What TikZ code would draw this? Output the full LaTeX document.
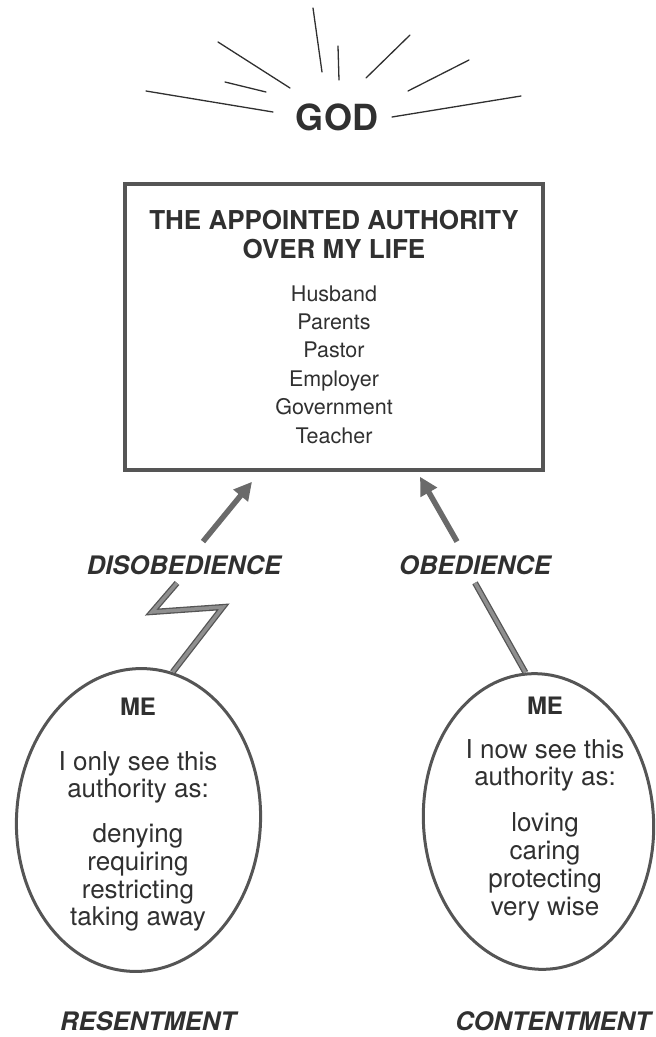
\documentclass[tikz,border=0pt]{standalone}
\usepackage{fontspec}
\setmainfont{TeX Gyre Heros}
\usetikzlibrary{arrows.meta,shapes.geometric}
\definecolor{inkgray}{HTML}{555555}
\definecolor{textgray}{HTML}{303030}
\definecolor{fillgray}{HTML}{6A6A6A}
\begin{document}
\begin{tikzpicture}[x=1pt,y=-1pt]
% Styles
\tikzset{ray/.style={line width=1.3pt, color=textgray, line cap=round}}
\tikzset{boxline/.style={draw=inkgray, line width=3.5pt, inner sep=0pt}}
\tikzset{oval/.style={ellipse, draw=inkgray, line width=3pt, inner sep=0pt}}
\tikzset{heading/.style={text=textgray, font=\bfseries\fontsize{26}{28}\selectfont, anchor=base}}
\tikzset{entry/.style={text=textgray, font=\fontsize{21.5}{24}\selectfont, anchor=base}}
\tikzset{ovaltext/.style={text=textgray, font=\fontsize{26}{28}\selectfont, anchor=base}}
\tikzset{metext/.style={text=textgray, font=\bfseries\fontsize{24}{26}\selectfont, anchor=base}}
\tikzset{verdict/.style={text=textgray, font=\bfseries\itshape\fontsize{25.5}{28}\selectfont, anchor=base}}
\tikzset{blockarrow/.style={draw=fillgray, line width=5.5pt, -{Triangle[length=18pt,width=18pt]}}}
\tikzset{bolt/.style={draw=inkgray, line width=1.3pt, double=fillgray!75, double distance=3.5pt, line join=miter}}

\useasboundingbox (0,0) rectangle (656,1037);

% GOD and the rays
\node[text=textgray, font=\bfseries\fontsize{36}{40}\selectfont, anchor=base] (god) at (337,130) {GOD};
\foreach \a/\b/\c/\d in {313/8/322/72, 218/42/290/88, 225/82/266/92, 146/91/273/112,
                         338/46/339/80, 366/78/410/35, 408/91/469/60, 392/117/521/96} {
\draw[ray] (\a,\b) -- (\c,\d);
}

% Draw the box
\node[boxline, minimum width=418, minimum height=286] (authority) at (334,327) {};
\node[heading] (title1) at (334,229) {THE APPOINTED AUTHORITY};
\node[heading] (title2) at (334,258) {OVER MY LIFE};
% the names in the box
\foreach \name [count=\i] in {Husband,Parents,Pastor,Employer,Government,Teacher} {
\node[entry] (entry\i) at (334,{301+28.4*(\i-1)}) {\name};
}

% the two ovals
\node[oval, rotate=-3, minimum width=244, minimum height=303] (meleft) at (138.5,820) {};
\node[oval, rotate=4, minimum width=230, minimum height=296] (meright) at (538.5,821.5) {};

	%left
\node[metext] (meleftname) at (138,715) {ME};
\foreach \line/\y in {I only see this/770, authority as:/797, denying/842,
                      requiring/870, restricting/898, taking away/925} {
\node[ovaltext] (lefttext\y) at (138,\y) {\line};
}
	%right
\node[metext] (merightname) at (545,714) {ME};
\foreach \line/\y in {I now see this/758, authority as:/785, loving/831,
                      caring/859, protecting/887, very wise/915} {
\node[ovaltext] (righttext\y) at (545,\y) {\line};
}

% the labels
\node[verdict] (dis) at (184,574) {DISOBEDIENCE};
\node[verdict] (obey) at (475,574) {OBEDIENCE};
\node[verdict] (resent) at (148,1030) {RESENTMENT};
\node[verdict] (content) at (553,1030) {CONTENTMENT};

% the arrows up to the box
\draw[blockarrow] ([xshift=19pt,yshift=10pt]dis.north) -- ([xshift=-82pt,yshift=-10pt]authority.south);
\draw[blockarrow] ([xshift=-18pt,yshift=10pt]obey.north) -- ([xshift=86pt,yshift=-5pt]authority.south);

% the bolt and the straight line
\coordinate (boltA) at (223,607);
\coordinate (boltB) at (152,612);
\coordinate (boltTop) at (177,583);
\draw[bolt] (meleft.80) -- (boltA) -- (boltB) -- (boltTop);
\draw[bolt] (meright.91) -- ([yshift=-5pt]obey.south);
\end{tikzpicture}
\end{document}
